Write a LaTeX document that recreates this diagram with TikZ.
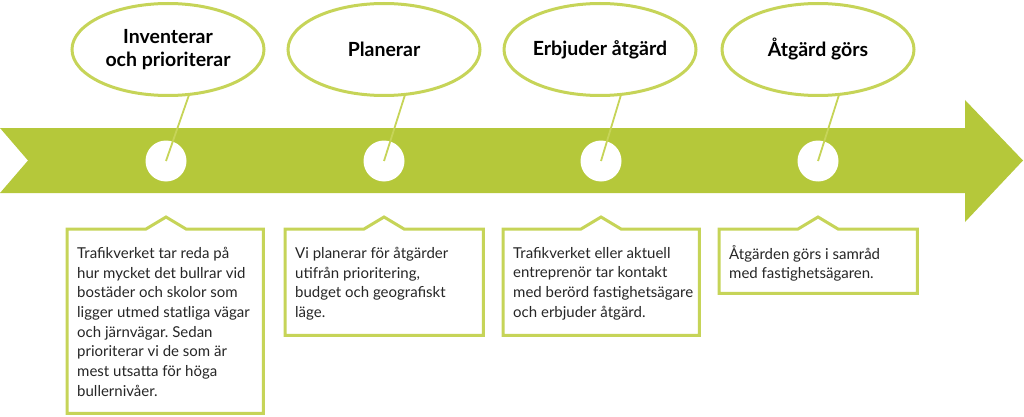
\documentclass[tikz,border=0pt]{standalone}
\usepackage{fontspec}
\setmainfont{Lato}
\frenchspacing
\usetikzlibrary{calc,shapes.geometric}
\definecolor{leaf}{RGB}{181,200,58}
\definecolor{leafline}{RGB}{198,212,88}
\tikzset{
  every node/.append style={font=\fontsize{15}{19.7}\selectfont},
  stage/.style={ellipse, draw=leafline, line width=3pt, fill=white, minimum width=192pt, minimum height=92pt, inner sep=0, align=center, font=\fontsize{19.5}{23}\selectfont\bfseries},
  dot/.style={circle, fill=white, minimum size=41pt, inner sep=0},
  infobox/.style={anchor=north west, inner sep=0},
  infotext/.style={anchor=north west, align=left, inner sep=0, text=black!85},
  boxline/.style={draw=leafline, fill=white, line width=3pt, line join=miter},
  stalk/.style={draw=leafline, line width=1.8pt}
}

\begin{document}
\begin{tikzpicture}[x=1pt, y=-1pt]
    \useasboundingbox (0,0) rectangle (1024,417);
    % the band with its arrow head
    \fill[leaf] (0,128) -- (965,128) -- (965,100) -- (1023,160.5) -- (965,222) -- (965,193) -- (0,193) -- (28,160.5) -- cycle;
    % stops on the band
    \node[dot] (c1) at (166,161) {};
    \node[dot] (c2) at (384,161) {};
    \node[dot] (c3) at (601,161) {};
    \node[dot] (c4) at (818,161) {};
    % headings
    \node[stage] (e1) at (168,49.5) {Inventerar\\och prioriterar};
    \node[stage] (e2) at (384,49.5) {Planerar};
    \node[stage] (e3) at (600,49.5) {Erbjuder åtgärd};
    \node[stage] (e4) at (818,49.5) {Åtgärd görs};
    \draw[stalk] (e1.-66) -- (c1.center);
    \draw[stalk] (e2.-66) -- (c2.center);
    \draw[stalk] (e3.-66) -- (c3.center);
    \draw[stalk] (e4.-66) -- (c4.center);
    % text boxes below
    \node[infobox, minimum width=196pt, minimum height=184pt] (b1) at (67,229) {};
    \draw[boxline] (b1.north west) -- ($(c1 |- b1.north)+(-20,0)$) -- ($(c1 |- b1.north)+(0,-12)$) -- ($(c1 |- b1.north)+(20,0)$) -- (b1.north east) -- (b1.south east) -- (b1.south west) -- cycle;
    \node[infotext] (t1) at ([shift={(10,18)}]b1.north west) {Trafikverket tar reda på\\hur mycket det bullrar vid\\bostäder och skolor som\\ligger utmed statliga vägar\\och järnvägar. Sedan\\prioriterar vi de som är\\mest utsatta för höga\\bullernivåer.};
    \node[infobox, minimum width=198pt, minimum height=106pt] (b2) at (285,229) {};
    \draw[boxline] (b2.north west) -- ($(c2 |- b2.north)+(-20,0)$) -- ($(c2 |- b2.north)+(0,-12)$) -- ($(c2 |- b2.north)+(20,0)$) -- (b2.north east) -- (b2.south east) -- (b2.south west) -- cycle;
    \node[infotext] (t2) at ([shift={(10,18)}]b2.north west) {Vi planerar för åtgärder\\utifrån prioritering,\\budget och geografiskt\\läge.};
    \node[infobox, minimum width=196pt, minimum height=106pt] (b3) at (503,229) {};
    \draw[boxline] (b3.north west) -- ($(c3 |- b3.north)+(-20,0)$) -- ($(c3 |- b3.north)+(0,-12)$) -- ($(c3 |- b3.north)+(20,0)$) -- (b3.north east) -- (b3.south east) -- (b3.south west) -- cycle;
    \node[infotext] (t3) at ([shift={(10,18)}]b3.north west) {Trafikverket eller aktuell\\entreprenör tar kontakt\\med berörd fastighetsägare\\och erbjuder åtgärd.};
    \node[infobox, minimum width=198pt, minimum height=64pt] (b4) at (719,229) {};
    \draw[boxline] (b4.north west) -- ($(c4 |- b4.north)+(-20,0)$) -- ($(c4 |- b4.north)+(0,-12)$) -- ($(c4 |- b4.north)+(20,0)$) -- (b4.north east) -- (b4.south east) -- (b4.south west) -- cycle;
    \node[infotext] (t4) at ([shift={(10,16)}]b4.north west) {Åtgärden görs i samråd\\med fastighetsägaren.};
\end{tikzpicture}
\end{document}
